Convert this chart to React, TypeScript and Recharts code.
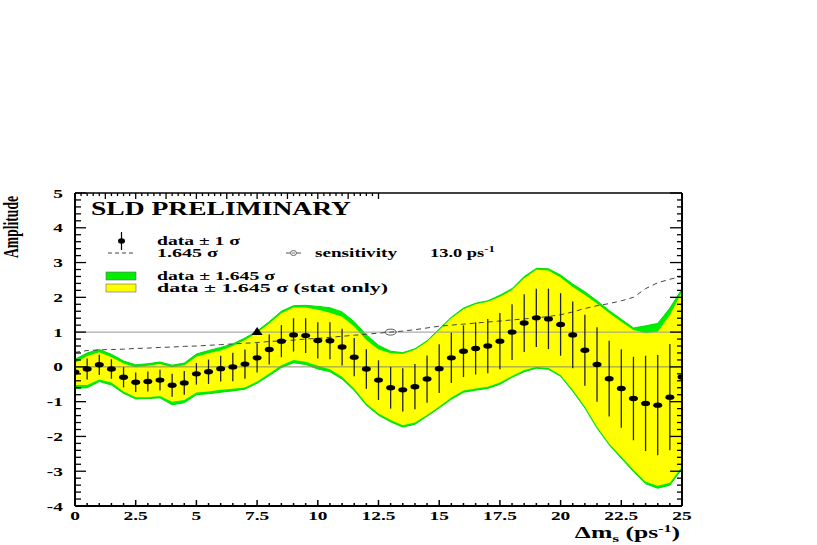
import React from "react"
import { Area, ComposedChart, ErrorBar, Line, ReferenceDot, ReferenceLine, Scatter, XAxis, YAxis } from "recharts"

// Δm_s scan points (ps^-1)
const DMS = [0, 0.5, 1, 1.5, 2, 2.5, 3, 3.5, 4, 4.5, 5, 5.5, 6, 6.5, 7, 7.5, 8, 8.5, 9, 9.5, 10, 10.5, 11, 11.5, 12, 12.5, 13, 13.5, 14, 14.5, 15, 15.5, 16, 16.5, 17, 17.5, 18, 18.5, 19, 19.5, 20, 20.5, 21, 21.5, 22, 22.5, 23, 23.5, 24, 24.5, 25]

// measured amplitude and its 1σ total error
const AMP = [-0.15, -0.06, 0.06, -0.06, -0.3, -0.44, -0.42, -0.38, -0.53, -0.46, -0.2, -0.14, -0.05, 0.0, 0.08, 0.26, 0.5, 0.74, 0.92, 0.9, 0.76, 0.75, 0.57, 0.28, -0.06, -0.38, -0.6, -0.66, -0.57, -0.35, -0.05, 0.26, 0.45, 0.53, 0.6, 0.74, 1.0, 1.26, 1.41, 1.38, 1.22, 0.92, 0.48, 0.07, -0.34, -0.62, -0.91, -1.05, -1.1, -0.87, -0.29]
const SIGMA = [0.3, 0.3, 0.29, 0.28, 0.29, 0.28, 0.29, 0.3, 0.33, 0.34, 0.31, 0.35, 0.37, 0.41, 0.42, 0.42, 0.43, 0.46, 0.48, 0.5, 0.52, 0.53, 0.53, 0.55, 0.57, 0.57, 0.6, 0.62, 0.65, 0.68, 0.7, 0.72, 0.74, 0.75, 0.78, 0.81, 0.8, 0.83, 0.84, 0.87, 0.9, 0.96, 1.02, 1.07, 1.09, 1.13, 1.2, 1.37, 1.44, 1.53, 1.6]

// 1.645σ sensitivity curve
const SENS = [0.42, 0.47, 0.49, 0.5, 0.51, 0.53, 0.54, 0.56, 0.57, 0.59, 0.6, 0.62, 0.64, 0.66, 0.68, 0.7, 0.73, 0.75, 0.77, 0.8, 0.82, 0.85, 0.88, 0.91, 0.94, 0.97, 1.0, 1.03, 1.07, 1.12, 1.17, 1.2, 1.23, 1.26, 1.29, 1.32, 1.35, 1.38, 1.41, 1.45, 1.5, 1.58, 1.68, 1.76, 1.82, 1.9, 2.0, 2.25, 2.42, 2.52, 2.6]

// data ± 1.645σ (stat only) -> yellow
const YEL_LO = [-0.52, -0.52, -0.36, -0.45, -0.71, -0.87, -0.87, -0.84, -1.0, -0.95, -0.74, -0.71, -0.66, -0.63, -0.59, -0.42, -0.19, 0.05, 0.2, 0.15, 0.03, -0.07, -0.28, -0.62, -1.05, -1.34, -1.53, -1.68, -1.6, -1.38, -1.14, -0.88, -0.68, -0.62, -0.57, -0.45, -0.26, -0.09, 0.0, -0.03, -0.23, -0.66, -1.14, -1.72, -2.2, -2.58, -2.96, -3.3, -3.42, -3.33, -2.87]
const YEL_HI = [0.12, 0.31, 0.42, 0.28, 0.1, -0.01, 0.03, 0.08, -0.01, 0.05, 0.29, 0.39, 0.47, 0.6, 0.77, 0.98, 1.25, 1.54, 1.71, 1.71, 1.64, 1.56, 1.44, 1.16, 0.77, 0.5, 0.39, 0.37, 0.49, 0.72, 1.06, 1.4, 1.66, 1.8, 1.87, 2.02, 2.21, 2.55, 2.79, 2.77, 2.57, 2.3, 2.07, 1.82, 1.55, 1.3, 1.06, 0.97, 1.01, 1.49, 2.16]

// data ± 1.645σ (total) -> green
const GRN_LO = [-0.62, -0.6, -0.42, -0.52, -0.76, -0.92, -0.91, -0.89, -1.09, -1.03, -0.8, -0.77, -0.73, -0.69, -0.64, -0.47, -0.25, -0.02, 0.12, 0.07, -0.06, -0.14, -0.35, -0.68, -1.1, -1.39, -1.58, -1.73, -1.65, -1.42, -1.18, -0.93, -0.73, -0.67, -0.62, -0.5, -0.3, -0.14, -0.04, -0.07, -0.27, -0.7, -1.18, -1.76, -2.24, -2.63, -3.01, -3.36, -3.49, -3.4, -2.93]
const GRN_HI = [0.22, 0.4, 0.5, 0.36, 0.17, 0.06, 0.09, 0.14, 0.05, 0.11, 0.37, 0.47, 0.56, 0.66, 0.83, 1.03, 1.3, 1.6, 1.76, 1.77, 1.74, 1.7, 1.58, 1.3, 0.92, 0.62, 0.45, 0.41, 0.52, 0.75, 1.09, 1.43, 1.69, 1.83, 1.9, 2.06, 2.25, 2.6, 2.83, 2.82, 2.64, 2.38, 2.16, 1.9, 1.62, 1.37, 1.12, 1.18, 1.25, 1.69, 2.24]

const LIMIT_X = 7.5
const SENS_X = 13.0

const X_TICKS = DMS
const Y_TICKS = Array.from({ length: 46 }, (_, i) => Math.round((-4 + i * 0.2) * 10) / 10)

const FONT = "'Liberation Serif', 'Times New Roman', serif"
const SX = 1.55
const W = 817
const H = 545

const data = DMS.map((x, i) => ({
  x,
  amp: AMP[i],
  sig: SIGMA[i],
  sens: SENS[i],
  yel: [YEL_LO[i], YEL_HI[i]],
  grn: [GRN_LO[i], GRN_HI[i]],
}))

const isInt = (v: number) => Math.abs(v - Math.round(v)) < 1e-6
const isMajorX = (v: number) => Math.abs(v / 2.5 - Math.round(v / 2.5)) < 1e-6

function Label({ x, y, anchor, children }: any) {
  return (
    <text transform={`translate(${x},${y}) scale(${SX},1)`} textAnchor={anchor} fontFamily={FONT} fontWeight="bold" fontSize={12.5} fill="#000">
      {children}
    </text>
  )
}

function LeftTick({ x, y, payload }: any) {
  const major = isInt(payload.value)
  return (
    <g>
      <line x1={x} x2={x + (major ? 11 : 6)} y1={y} y2={y} stroke="#000" strokeWidth={1.3} />
      {major && <Label x={x - 12} y={y + 4.5} anchor="end">{String(payload.value)}</Label>}
    </g>
  )
}

function RightTick({ x, y, payload }: any) {
  const major = isInt(payload.value)
  return <line x1={x} x2={x - (major ? 12 : 5)} y1={y} y2={y} stroke="#000" strokeWidth={1.3} />
}

function BottomTick({ x, y, payload }: any) {
  const major = isMajorX(payload.value)
  return (
    <g>
      <line x1={x} x2={x} y1={y} y2={y - (major ? 6 : 3)} stroke="#000" strokeWidth={1.5} />
      {major && <Label x={x} y={y + 14} anchor="middle">{String(payload.value)}</Label>}
    </g>
  )
}

function TopTick({ x, y, payload }: any) {
  const major = isMajorX(payload.value)
  return <line x1={x} x2={x} y1={y} y2={y + (major ? 6 : 3)} stroke="#000" strokeWidth={1.3} />
}

function PointDot({ cx, cy }: any) {
  if (cx == null || cy == null) return null
  return <ellipse cx={cx} cy={cy} rx={4.5} ry={2.7} fill="#000" />
}

function Triangle({ cx, cy }: any) {
  return <path d={`M${cx},${cy - 5} L${cx + 5.5},${cy + 3} L${cx - 5.5},${cy + 3} Z`} fill="#000" />
}

function OpenCircle({ cx, cy }: any) {
  return <ellipse cx={cx} cy={cy} rx={5.5} ry={3} fill="none" stroke="#555" strokeWidth={1} />
}

function Overlay() {
  const t = { fontFamily: FONT, fontWeight: "bold" as const, fill: "#000" }
  return (
    <svg width={W} height={H} style={{ position: "absolute", left: 0, top: 0, pointerEvents: "none" }}>
      <text x={91} y={215} fontSize={18} textLength={260} lengthAdjust="spacingAndGlyphs" {...t}>SLD PRELIMINARY</text>

      <line x1={121.5} x2={121.5} y1={232} y2={250} stroke="#000" strokeWidth={1.2} />
      <ellipse cx={121.5} cy={241} rx={3.5} ry={2.7} fill="#000" />
      <text x={157} y={245} fontSize={11.5} textLength={83} lengthAdjust="spacingAndGlyphs" {...t}>data ± 1 σ</text>

      <line x1={108} x2={135} y1={253} y2={253} stroke="#444" strokeWidth={1} strokeDasharray="4 3" />
      <text x={157} y={257} fontSize={11.5} textLength={61} lengthAdjust="spacingAndGlyphs" {...t}>1.645 σ</text>

      <line x1={286} x2={290} y1={253} y2={253} stroke="#555" strokeWidth={1} />
      <ellipse cx={293.5} cy={253} rx={3} ry={2.5} fill="none" stroke="#555" strokeWidth={0.9} />
      <line x1={292} x2={295} y1={253} y2={253} stroke="#555" strokeWidth={0.8} />
      <line x1={297} x2={301} y1={253} y2={253} stroke="#555" strokeWidth={1} />
      <text x={315} y={257} fontSize={11.5} textLength={82} lengthAdjust="spacingAndGlyphs" {...t}>sensitivity</text>
      <text transform={`translate(430,257) scale(1.6,1)`} fontSize={11.5} {...t}>
        13.0 ps<tspan dy={-5} fontSize={8}>-1</tspan>
      </text>

      <rect x={106} y={272} width={30} height={8} fill="#00ee00" stroke="#666" strokeWidth={0.6} />
      <text x={157} y={280} fontSize={11.5} textLength={118} lengthAdjust="spacingAndGlyphs" {...t}>data ± 1.645 σ</text>
      <rect x={106} y={284} width={30} height={8} fill="#ffff00" stroke="#666" strokeWidth={0.6} />
      <text x={157} y={292} fontSize={11.5} textLength={231} lengthAdjust="spacingAndGlyphs" {...t}>data ± 1.645 σ (stat only)</text>

      <text transform="translate(18,227) rotate(-90)" textAnchor="middle" fontSize={21} textLength={62} lengthAdjust="spacingAndGlyphs" {...t}>Amplitude</text>

      <text transform={`translate(680,538) scale(1.6,1)`} textAnchor="end" fontSize={16} {...t}>
        Δm<tspan dy={4} fontSize={11}>s</tspan><tspan dy={-4}> (ps</tspan><tspan dy={-6} fontSize={10}>-1</tspan><tspan dy={6}>)</tspan>
      </text>
    </svg>
  )
}

export default function App() {
  return (
    <div style={{ position: "absolute", left: 0, top: 0, width: W, height: H, background: "#fff" }}>
      <ComposedChart width={W} height={H} data={data} margin={{ top: 0, right: 0, bottom: 0, left: 0 }}>
        <XAxis
          xAxisId={0}
          dataKey="x"
          type="number"
          domain={[0, 25]}
          allowDataOverflow
          ticks={X_TICKS}
          interval={0}
          height={39}
          tickSize={0}
          tickMargin={0}
          tick={BottomTick}
          axisLine={{ stroke: "#000", strokeWidth: 2 }}
        />
        <XAxis
          xAxisId="top"
          orientation="top"
          type="number"
          domain={[0, 25]}
          allowDataOverflow
          ticks={X_TICKS}
          interval={0}
          height={193}
          tickSize={0}
          tickMargin={0}
          tick={TopTick}
          axisLine={{ stroke: "#000", strokeWidth: 1.3 }}
        />
        <YAxis
          yAxisId={0}
          type="number"
          domain={[-4, 5]}
          allowDataOverflow
          ticks={Y_TICKS}
          interval={0}
          width={75}
          tickSize={0}
          tickMargin={0}
          tick={LeftTick}
          axisLine={{ stroke: "#000", strokeWidth: 2 }}
        />
        <YAxis
          yAxisId="right"
          orientation="right"
          type="number"
          domain={[-4, 5]}
          allowDataOverflow
          ticks={Y_TICKS}
          interval={0}
          width={135}
          tickSize={0}
          tickMargin={0}
          tick={RightTick}
          axisLine={{ stroke: "#000", strokeWidth: 2 }}
        />
        <Area type="linear" dataKey="grn" fill="#00ee00" fillOpacity={1} stroke="#00dd00" strokeWidth={1} isAnimationActive={false} />
        <Area type="linear" dataKey="yel" fill="#ffff00" fillOpacity={1} stroke="none" isAnimationActive={false} />
        <ReferenceLine y={0} stroke="#8a8a6a" strokeWidth={1} />
        <ReferenceLine y={1} stroke="#999" strokeWidth={1} />
        <Line type="linear" dataKey="sens" stroke="#444" strokeWidth={1} strokeDasharray="5 4" dot={false} isAnimationActive={false} />
        <Scatter dataKey="amp" shape={PointDot} isAnimationActive={false}>
          <ErrorBar dataKey="sig" direction="y" width={0} stroke="#222" strokeWidth={1.3} />
        </Scatter>
        <ReferenceDot x={LIMIT_X} y={1} shape={Triangle} />
        <ReferenceDot x={SENS_X} y={1} shape={OpenCircle} />
      </ComposedChart>
      <Overlay />
    </div>
  )
}
